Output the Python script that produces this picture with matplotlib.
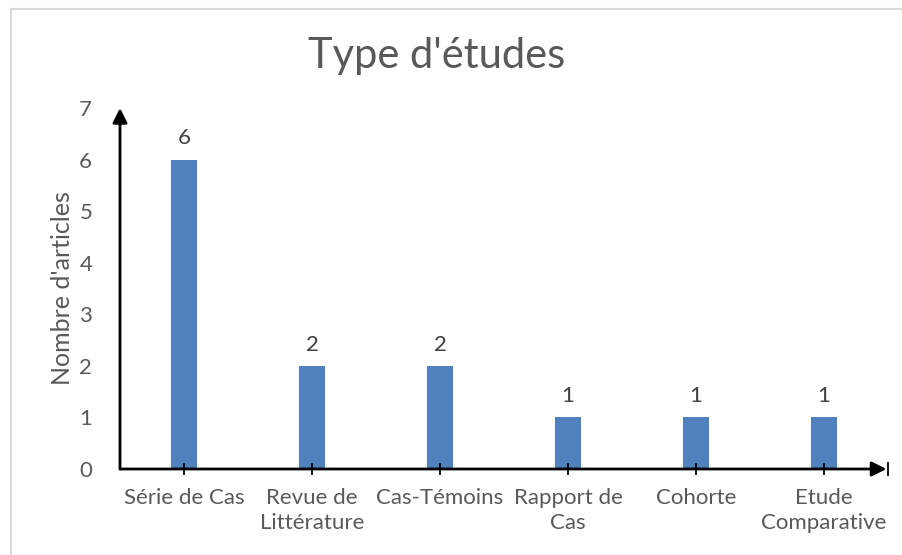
import matplotlib.pyplot as plt
from matplotlib.lines import Line2D

categories = ["Série de Cas", "Revue de\nLittérature", "Cas-Témoins",
              "Rapport de\nCas", "Cohorte", "Etude\nComparative"]
counts = [6, 2, 2, 1, 1, 1]
yticks = [0, 1, 2, 3, 4, 5, 6, 7]

plt.rcParams['font.family'] = ['Lato', 'DejaVu Sans']
grey = '#595959'
blue = '#4F81BD'

fig = plt.figure(figsize=(9.03, 5.55), dpi=100)
ax = fig.add_axes([120 / 903, 1 - 469 / 555, 768 / 903, (469 - 108) / 555])

x = list(range(len(categories)))
bars = ax.bar(x, counts, width=0.2, color=blue, zorder=1)
for xi, v in zip(x, counts):
    ax.text(xi, v + 0.22, str(v), ha='center', va='bottom', fontsize=16, color='#404040')

ax.set_xlim(-0.5, len(categories) - 0.5)
ax.set_ylim(0, 7)
ax.set_yticks(yticks)
ax.set_xticks(x)
ax.set_xticklabels(categories, fontsize=16, color=grey, linespacing=1.3)
ax.tick_params(axis='y', length=0, pad=20, labelsize=16, labelcolor=grey)
ax.tick_params(axis='x', direction='inout', length=8, width=1.3, color='black', pad=10)

for s in ['top', 'right', 'left', 'bottom']:
    ax.spines[s].set_visible(False)

# axes with arrows
ax.annotate('', xy=(0, 1.0), xytext=(0, 0), xycoords='axes fraction',
            arrowprops=dict(arrowstyle='-|>', color='black', lw=2, mutation_scale=22,
                            shrinkA=0, shrinkB=0))
ax.annotate('', xy=(0.998, 0), xytext=(0, 0), xycoords='axes fraction',
            arrowprops=dict(arrowstyle='-|>', color='black', lw=2, mutation_scale=22,
                            shrinkA=0, shrinkB=0))
ax.plot([1.0, 1.0], [-0.018, 0.018], transform=ax.transAxes, color='black',
        lw=1.3, clip_on=False)

ax.set_ylabel("Nombre d'articles", fontsize=18, color=grey, labelpad=4)
fig.text(437 / 903, 1 - 56 / 555, "Type d'études", ha='center', va='center',
         fontsize=30, color=grey)

# outer chart border (partially cropped)
fig.add_artist(Line2D([11 / 903, 11 / 903], [0, 1 - 9 / 555], color='#D9D9D9', lw=1.5))
fig.add_artist(Line2D([11 / 903, 1], [1 - 9 / 555, 1 - 9 / 555], color='#D9D9D9', lw=1.5))

fig.savefig('out.png', dpi=100)
